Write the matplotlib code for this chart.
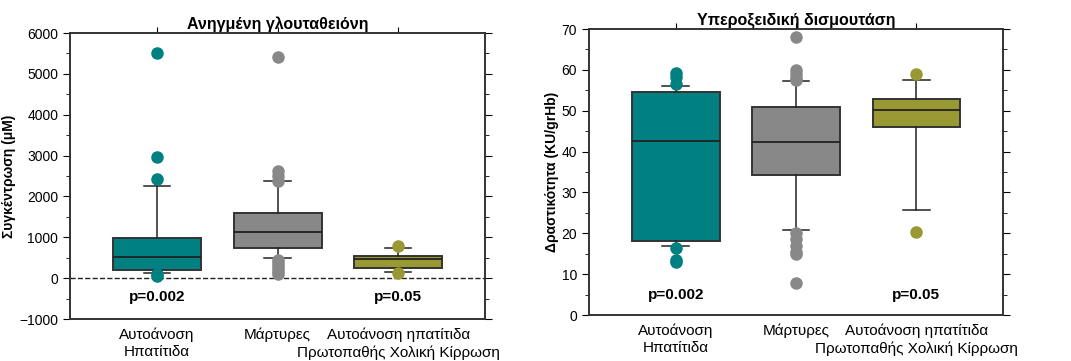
import matplotlib.pyplot as plt
from matplotlib.ticker import MultipleLocator

plt.rcParams['font.family'] = ['Liberation Sans', 'DejaVu Sans']

groups = ["Αυτοάνοση", "Μάρτυρες", "Αυτοάνοση ηπατίτιδα"]
groups_line2 = ["Ηπατίτιδα", "", "Πρωτοπαθής Χολική Κίρρωση"]
colors = ["#008080", "#888888", "#999933"]

# Ανηγμένη γλουταθειόνη (μΜ)
gsh_q1 = [200, 750, 250]
gsh_med = [530, 1140, 460]
gsh_q3 = [980, 1600, 540]
gsh_lo = [130, 500, 160]
gsh_hi = [2250, 2370, 750]
gsh_fliers = [
    [5520, 2960, 2420, 60, 110],
    [5420, 2620, 2500, 2380, 450, 380, 300, 230, 150, 90],
    [780, 130],
]

# Υπεροξειδική δισμουτάση (KU/grHb)
sod_q1 = [18.2, 34.2, 46.0]
sod_med = [42.7, 42.3, 50.2]
sod_q3 = [54.7, 50.8, 52.8]
sod_lo = [17.0, 20.8, 25.6]
sod_hi = [56.0, 57.3, 57.5]
sod_fliers = [
    [59.2, 58.2, 56.6, 16.5, 13.5, 13.0],
    [68.0, 60.0, 59.0, 58.0, 57.6, 20.0, 18.5, 17.0, 15.5, 15.0, 7.8],
    [59.0, 20.3],
]

p_labels = ["p=0.002", "", "p=0.05"]


def draw(ax, q1, med, q3, lo, hi, fliers, title, ylabel, ylim, major, minor, p_y):
    stats = []
    for i in range(3):
        stats.append(dict(q1=q1[i], med=med[i], q3=q3[i], whislo=lo[i],
                          whishi=hi[i], fliers=fliers[i]))
    bp = ax.bxp(stats, positions=[0, 1, 2], widths=0.73, patch_artist=True,
                showfliers=True, capwidths=0.22,
                medianprops=dict(color="#222222", lw=1.3),
                whiskerprops=dict(color="#222222", lw=1.1),
                capprops=dict(color="#222222", lw=1.1),
                boxprops=dict(edgecolor="#333333", lw=1.4))
    for patch, c in zip(bp["boxes"], colors):
        patch.set_facecolor(c)
    for fl, c in zip(bp["fliers"], colors):
        fl.set(marker="o", markersize=8, markerfacecolor=c, markeredgecolor=c)
    ax.set_xlim(-0.72, 2.72)
    ax.set_ylim(*ylim)
    ax.yaxis.set_major_locator(MultipleLocator(major))
    ax.yaxis.set_minor_locator(MultipleLocator(minor))
    ax.set_xticks([0, 1, 2])
    ax.set_xticklabels(groups, fontsize=11)
    ax.tick_params(axis="x", top=True, bottom=False, direction="out", length=4, pad=2)
    ax.tick_params(axis="y", which="both", right=True, direction="out", labelsize=10)
    ax.tick_params(axis="y", which="major", length=5)
    ax.tick_params(axis="y", which="minor", length=3)
    # second line of the category labels
    for i, t in enumerate(groups_line2):
        if t:
            ax.annotate(t, xy=(i, 0), xycoords=("data", "axes fraction"),
                        xytext=(0, -19), textcoords="offset points",
                        ha="center", va="top", fontsize=11)
    for s in ax.spines.values():
        s.set_color("#333333")
        s.set_linewidth(1.4)
    ax.set_title(title, fontsize=11.5, fontweight="bold", pad=3)
    ax.set_ylabel(ylabel, fontsize=10, fontweight="bold", labelpad=2)
    for i, t in enumerate(p_labels):
        if t:
            ax.text(i, p_y, t, ha="center", va="center", fontsize=11, fontweight="bold")


fig = plt.figure(figsize=(10.71, 3.61), dpi=100)
ax1 = fig.add_axes([0.0654, 0.1163, 0.3875, 0.7922])
ax2 = fig.add_axes([0.5500, 0.1274, 0.3866, 0.7922])

draw(ax1, gsh_q1, gsh_med, gsh_q3, gsh_lo, gsh_hi, gsh_fliers,
     "Ανηγμένη γλουταθειόνη", "Συγκέντρωση (μΜ)", (-1000, 6000), 1000, 500, -450)
ax1.axhline(0, color="#222222", lw=1, ls="--", zorder=0)

draw(ax2, sod_q1, sod_med, sod_q3, sod_lo, sod_hi, sod_fliers,
     "Υπεροξειδική δισμουτάση", "Δραστικότητα (KU/grHb)", (0, 70), 10, 5, 5)

fig.savefig("out.png", dpi=100)
